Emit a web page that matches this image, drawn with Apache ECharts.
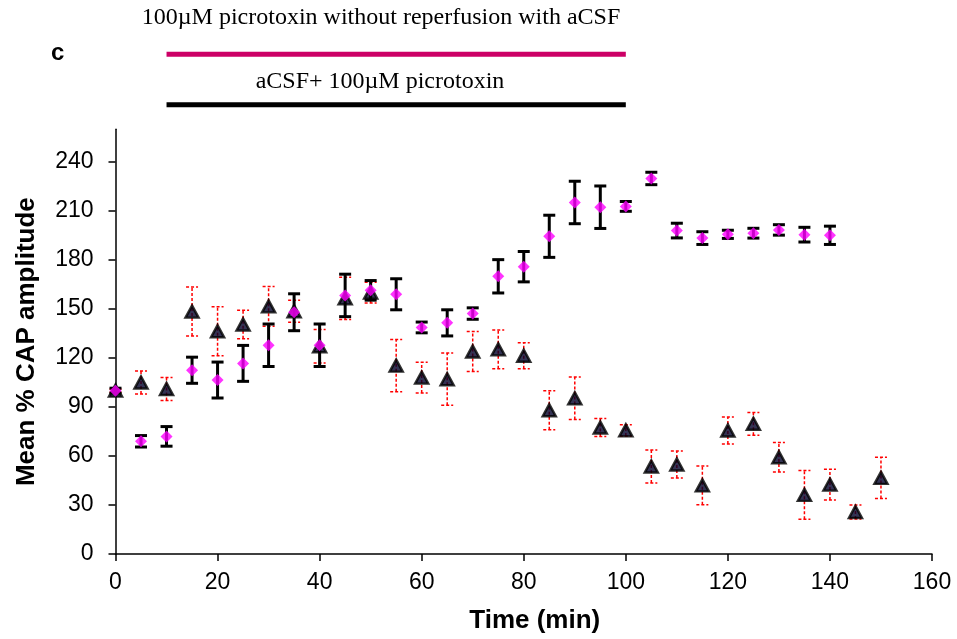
<!DOCTYPE html>
<html>
<head>
<meta charset="utf-8">
<script src="https://cdn.jsdelivr.net/npm/echarts@6/dist/echarts.min.js"></script>
<style>html,body{margin:0;padding:0;background:#fff;}#c{width:957px;height:639px;}</style>
</head>
<body>
<div id="c"></div>
<script>
// ---- data ----
const timeMagenta = [0,5,10,15,20,25,30,35,40,45,50,55,60,65,70,75,80,85,90,95,100,105,110,115,120,125,130,135,140];
const meanMagenta = [100,69,72,112.5,106.5,116.7,127.8,148,127.8,158.3,161.4,159,138.7,141.5,147.2,170,175.9,194.5,215.2,212.3,212.8,229.9,198,193.4,195.7,196.4,198.4,195.5,195.1];
const errMagenta  = [1.5,3.5,6,8,11,11,13,11.3,13,13,6,9.5,3.3,8,3.5,10.2,9.3,12.9,13,13,3,3.8,4.5,3.9,2.5,3,3.2,4.5,5.6];

const timeTriangle = [0,5,10,15,20,25,30,35,40,45,50,55,60,65,70,75,80,85,90,95,100,105,110,115,120,125,130,135,140,145,150];
const meanTriangle = [100,105,101,148.4,136.4,140.5,151.6,148.6,127.2,156.5,160,115.3,108,107,124,125.3,121.4,88,95.3,77.4,75.7,53.6,54.8,42,75.6,79.7,59.2,36.2,42.5,25.7,46.6];
const errTriangle  = [1,7,7,15,15,8.7,12.2,6.7,10.2,13,6.3,16,9.4,16,12.2,11.9,8,12,13,5.5,3.5,10.1,8.3,11.9,8.2,7,9,14.9,9.4,4.3,12.6];

const yTicks = [0,30,60,90,120,150,180,210,240];
const treatmentStart = 10, treatmentEnd = 100;
const barLabels = ['100\u00b5M picrotoxin without reperfusion with aCSF', 'aCSF+ 100\u00b5M picrotoxin'];

// ---- helpers ----
function errData(t, m, e){ return t.map((x,i)=>[x, m[i]-e[i], m[i]+e[i]]); }
function errRender(color, width, dash, capW){
  return function(params, api){
    const x = api.value(0), lo = api.value(1), hi = api.value(2);
    const p1 = api.coord([x, lo]), p2 = api.coord([x, hi]);
    const style = {stroke: color, lineWidth: width, lineDash: dash};
    return {type:'group', children:[
      {type:'line', shape:{x1:p1[0], y1:p1[1], x2:p2[0], y2:p2[1]}, style: style},
      {type:'line', shape:{x1:p1[0]-capW/2, y1:p1[1], x2:p1[0]+capW/2, y2:p1[1]}, style: style},
      {type:'line', shape:{x1:p2[0]-capW/2, y1:p2[1], x2:p2[0]+capW/2, y2:p2[1]}, style: style}
    ]};
  };
}

const chart = echarts.init(document.getElementById('c'), null, {renderer:'canvas'});
const font = '"Liberation Sans", Arial, sans-serif';
const serif = '"Liberation Serif", "Times New Roman", serif';

chart.setOption({
  animation: false,
  backgroundColor: '#fff',
  grid: [
    {left: 115.5, right: 25, top: 129.3, bottom: 84},
    {left: 115.5, right: 25, top: 29, height: 101}
  ],
  xAxis: [
    {gridIndex:0, type:'value', min:0, max:160, interval:20,
     axisLine:{show:true, lineStyle:{color:'#000', width:1.5}},
     axisTick:{show:true, length:7, lineStyle:{color:'#000', width:1.5}},
     axisLabel:{color:'#000', fontSize:23, fontFamily:font, margin:17},
     splitLine:{show:false},
     name:'Time (min)', nameLocation:'middle', nameGap:54,
     nameTextStyle:{color:'#000', fontSize:26, fontWeight:'bold', fontFamily:font, padding:[0,0,0,22]}},
    {gridIndex:1, type:'value', min:0, max:160, show:false}
  ],
  yAxis: [
    {gridIndex:0, type:'value', min:0, max:260, interval:30,
     axisLine:{show:true, lineStyle:{color:'#000', width:1.5}},
     axisTick:{show:true, length:7, customValues: yTicks, lineStyle:{color:'#000', width:1.5}},
     axisLabel:{color:'#000', fontSize:23, fontFamily:font, margin:22, customValues: yTicks},
     splitLine:{show:false},
     name:'Mean % CAP amplitude', nameLocation:'middle', nameGap:76, nameRotate:90,
     nameTextStyle:{color:'#000', fontSize:26, fontWeight:'bold', fontFamily:font}},
    {gridIndex:1, type:'category', data:['m','k'], inverse:true, show:false}
  ],
  graphic: [
    {type:'text', left:51, top:41, style:{text:'c', font:'bold 24px ' + font, fill:'#000'}},
    {type:'text', x:381, y:18, style:{text:barLabels[0], font:'24px ' + serif, fill:'#000', align:'center', verticalAlign:'middle'}},
    {type:'text', x:380, y:82, style:{text:barLabels[1], font:'24px ' + serif, fill:'#000', align:'center', verticalAlign:'middle'}}
  ],
  series: [
    {type:'line', xAxisIndex:1, yAxisIndex:1, data:[[treatmentStart,'m'],[treatmentEnd,'m']],
     symbol:'none', lineStyle:{color:'#cc0066', width:5}, silent:true},
    {type:'line', xAxisIndex:1, yAxisIndex:1, data:[[treatmentStart,'k'],[treatmentEnd,'k']],
     symbol:'none', lineStyle:{color:'#000', width:5}, silent:true},
    {type:'custom', name:'errTri', xAxisIndex:0, yAxisIndex:0, z:2,
     renderItem: errRender('#ff0000', 1.5, [3,2], 12),
     data: errData(timeTriangle, meanTriangle, errTriangle), encode:{x:0, y:[1,2]}},
    {type:'scatter', name:'Triangle', z:3, symbol:'triangle', symbolSize:[13,12],
     itemStyle:{color:'#000028', borderColor:'#000', borderWidth:2.5},
     data: timeTriangle.map((t,i)=>[t, meanTriangle[i]])},
    {type:'custom', name:'errMag', z:4,
     renderItem: errRender('#000', 3, null, 12),
     data: errData(timeMagenta, meanMagenta, errMagenta), encode:{x:0, y:[1,2]}},
    {type:'scatter', name:'Magenta', z:5, symbol:'diamond', symbolSize:[12,12],
     itemStyle:{color:'#ff00ff'},
     data: timeMagenta.map((t,i)=>[t, meanMagenta[i]])}
  ]
});
</script>
</body>
</html>
